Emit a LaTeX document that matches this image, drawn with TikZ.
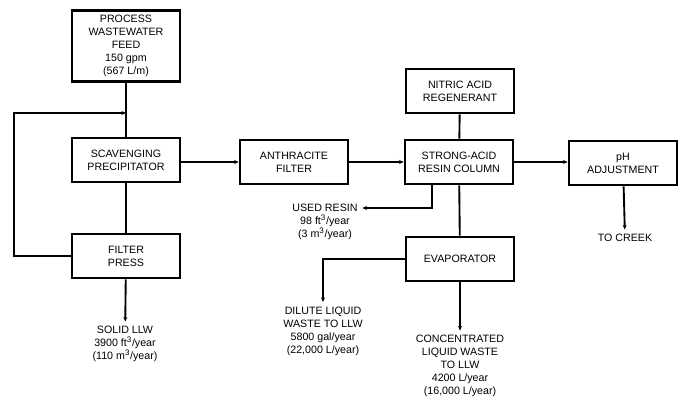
\documentclass[tikz,border=0pt]{standalone}
\usepackage{fontspec}
\setmainfont{Liberation Sans}
\usetikzlibrary{arrows.meta}
\begin{document}
\begin{tikzpicture}[x=0.75pt,y=-0.75pt,
  every node/.style={font=\fontsize{8}{9.7}\selectfont, align=center},
  box/.style={draw, line width=2pt, minimum width=81pt, minimum height=33pt, inner sep=2pt},
  flow/.style={line width=1.4pt, -{Stealth[length=3.5pt,width=3pt]}},
  plain/.style={line width=1.4pt}]
\useasboundingbox (0,0) rectangle (688,396);
\node[box, minimum height=53pt] (feed) at (126,46) {PROCESS\\WASTEWATER\\FEED\\150 gpm\\(567 L/m)};
\node[box] (scav) at (126,160) {SCAVENGING\\PRECIPITATOR};
\node[box] (press) at (126,256) {FILTER\\PRESS};
\node[box] (anth) at (294,162) {ANTHRACITE\\FILTER};
\node[box] (nitric) at (460,91) {NITRIC ACID\\REGENERANT};
\node[box] (col) at (459,162) {STRONG-ACID\\RESIN COLUMN};
\node[box] (ph) at (623,163) {pH\\ADJUSTMENT};
\node[box] (evap) at (460,259) {EVAPORATOR};
\node (solid) at (125,344) {SOLID LLW\\3900 ft\textsuperscript{3}/year\\(110 m\textsuperscript{3}/year)};
\node (creek) at (625,238) {TO CREEK};
\node (used) at (325,222) {USED RESIN\\98 ft\textsuperscript{3}/year\\(3 m\textsuperscript{3}/year)};
\node (dilute) at (323,331) {DILUTE LIQUID\\WASTE TO LLW\\5800 gal/year\\(22,000 L/year)};
\node (conc) at (460,366) {CONCENTRATED\\LIQUID WASTE\\TO LLW\\4200 L/year\\(16,000 L/year)};
\coordinate (jn) at (126,113);
\coordinate (lp) at (14,185);
\coordinate (rs) at (432,208);
\draw[plain] (feed) -- (scav);
\draw[plain] (scav) -- (press);
\draw[flow] (press.west) -| (lp) |- (jn);
\draw[flow] (press) -- (solid);
\draw[flow] (scav.east |- anth) -- (anth);
\draw[flow] (anth) -- (col);
\draw[plain] (nitric) -- (col);
\draw[flow] (col.east) -- (ph.west |- col);
\draw[flow] (ph) -- (creek);
\draw[flow] (col.south -| rs) -- (rs) -- (used.east |- rs);
\draw[plain] (col) -- (evap);
\draw[flow] (evap.west) -| (dilute);
\draw[flow] (evap) -- (conc);
\end{tikzpicture}
\end{document}
